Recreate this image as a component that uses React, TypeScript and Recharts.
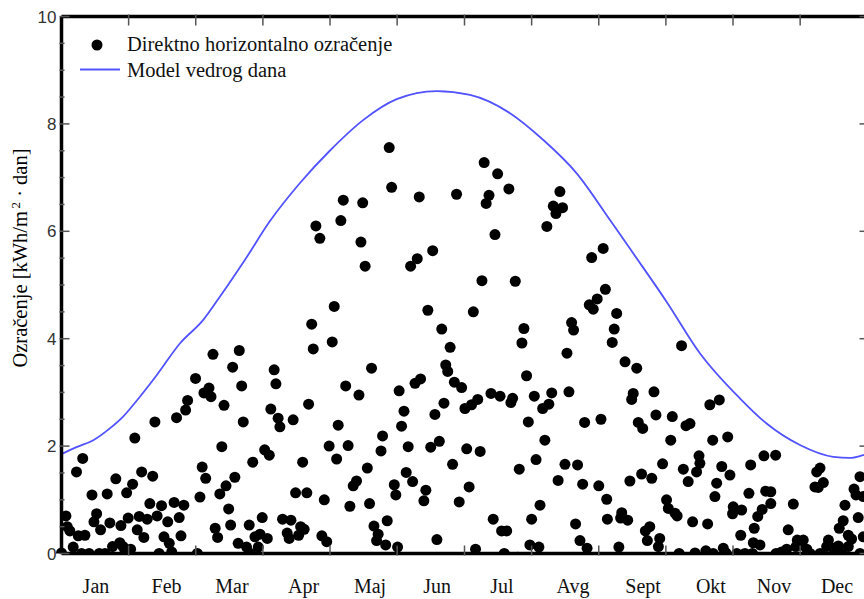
import React from 'react';
import { ComposedChart, Scatter, Line, XAxis, YAxis } from 'recharts';

const SERIF = '"Liberation Serif", "Times New Roman", serif';
const SANS = '"Liberation Sans", Arial, sans-serif';
const BLUE = '#5252ff';

const months = ['Jan', 'Feb', 'Mar', 'Apr', 'Maj', 'Jun', 'Jul', 'Avg', 'Sept', 'Okt', 'Nov', 'Dec'];
const monthLabelDays = [15.6, 47.6, 77.2, 109.6, 139.7, 170.1, 199.4, 231.6, 263.4, 294.1, 322.7, 351.2];
const monthEdgeDays = [30.4, 60.8, 91.2, 121.6, 152, 182.5, 212.9, 243.3, 273.7, 304.1, 334.5];
const yMajorTicks = [0, 2, 4, 6, 8, 10];
const yAllTicks = [0, 0.5, 1, 1.5, 2, 2.5, 3, 3.5, 4, 4.5, 5, 5.5, 6, 6.5, 7, 7.5, 8, 8.5, 9, 9.5, 10];

// model vedrog dana (clear sky)
const clearSkyDays = [0, 6.8, 14.4, 21.9, 27.9, 35.5, 43.1, 53.6, 64.2, 71.7, 83.1, 94.4, 108, 121.5, 136.6, 151.8,
  169.9, 185, 203.1, 218.2, 233.3, 248.4, 258.9, 274, 289.1, 307.2, 319.3, 334.4, 349.5, 357.1, 363.1, 365];
const clearSkyValues = [1.85, 1.98, 2.11, 2.33, 2.55, 2.92, 3.32, 3.91, 4.35, 4.78, 5.47, 6.19, 6.9, 7.5, 8.07, 8.46,
  8.61, 8.54, 8.2, 7.7, 7.08, 6.21, 5.59, 4.69, 3.73, 2.89, 2.42, 2.02, 1.8, 1.78, 1.83, 1.85];

// izmjereno direktno horizontalno ozracenje
const measuredDays = [
  0, 2, 2.6, 3.8, 5.3, 6.8, 7.6, 9.1, 9.6, 10.6,
  12.5, 13.8, 14.7, 15.9, 17.1, 17.7, 19.7, 20.7, 21.9, 23.1,
  24.6, 26.4, 26.9, 27.9, 28.7, 29.5, 30.2, 31.3, 32.2, 33.2,
  34.3, 35.2, 36.3, 37.3, 38.8, 40, 41.3, 42.3, 43.3, 44.2,
  45.3, 46.4, 48.1, 48.8, 49.9, 51, 52.1, 53.3, 54.1, 55.4,
  56.2, 57.1, 60.7, 61.5, 62.7, 63.7, 64.5, 65.3, 66.8, 67.7,
  68.6, 69.6, 70.7, 71.7, 72.6, 73.6, 74.5, 75.7, 76.6, 77.5,
  78.5, 80, 80.5, 81.6, 82.3, 83.8, 85, 85.6, 86.6, 87.6,
  89.1, 89.9, 90.9, 92, 93.2, 94.1, 94.8, 96.3, 97.1, 98.1,
  98.9, 100.1, 102.2, 103.1, 103.9, 104.9, 106, 107.4, 108.3, 109.2,
  109.9, 111.1, 111.9, 113.3, 114, 115.2, 117, 117.9, 119, 120.1,
  121.2, 122.6, 123.5, 124.6, 125.3, 126.5, 127.6, 128.7, 129.8, 130.6,
  132.1, 133.6, 134.7, 135.6, 136.4, 137.5, 138.5, 139.5, 140.4, 141.5,
  142.7, 143.4, 144.7, 145.4, 146.8, 147.5, 148.4, 149.5, 150.7, 151.4,
  152.2, 152.9, 154, 155.1, 156.1, 157, 158.1, 159, 160.1, 161.1,
  162, 162.6, 164.1, 165, 165.9, 167.2, 168.1, 169.1, 170, 171.1,
  172.2, 173.2, 174, 174.9, 176, 177.1, 177.9, 178.9, 180.1, 181.2,
  182.7, 183.5, 184.6, 185.7, 186.5, 187.5, 188.5, 189.6, 190.4, 191.4,
  192.3, 193.6, 194.5, 195.5, 196.3, 197.5, 198.6, 199.3, 200.5, 201.6,
  202.6, 203.5, 204.3, 205.5, 206.6, 207.3, 208.5, 209.4, 210.6, 211.4,
  212.1, 212.9, 214.1, 214.9, 216.2, 216.7, 217.9, 218.9, 219.8, 220.7,
  222, 222.7, 223.9, 224.9, 225.7, 226.9, 228, 228.9, 229.8, 231,
  231.9, 232.8, 233.7, 234.8, 236, 236.9, 238, 239, 240.1, 240.8,
  242.6, 243.3, 244.3, 245.3, 246.3, 246.9, 247.2, 249.4, 250.3, 251.4,
  252.4, 253.2, 253.7, 255.2, 256.4, 257.4, 258.2, 258.9, 260.5, 261.2,
  262.7, 263.2, 264.4, 265.3, 266.4, 267.3, 268.3, 269.2, 270.3, 270.9,
  272.2, 274, 274.8, 275.9, 276.6, 277.8, 278.8, 279.7, 280.8, 281.6,
  282.8, 283.8, 284.6, 285.8, 286.9, 287.6, 288.7, 289.1, 291.8, 292.6,
  293.6, 294.9, 295.1, 295.9, 296.7, 297.9, 299, 299.7, 300.9, 301.7,
  302.7, 303.9, 304.2, 305.8, 307.6, 308, 309.5, 311.3, 312.1, 312.9,
  313.3, 313.7, 315.3, 316.3, 317.3, 318.1, 318.9, 321.2, 321.2, 323.4,
  323.6, 326.1, 328.4, 329.1, 331.4, 332.6, 333.2, 334.9, 335.9, 337.5,
  339, 341.2, 342, 342.7, 343.5, 343.5, 345, 346.5, 347.3, 349.5,
  350.3, 351.8, 352.2, 353.3, 354, 354.8, 356.3, 356.3, 357.8, 358.9,
  359.8, 360.8, 361.6, 361.6, 363.1, 363.1,
];
const measuredValues = [
  0.01, 0.7, 0.5, 0.42, 0.12, 1.52, 0.33, 0, 1.77, 0.34,
  0, 1.09, 0.59, 0.74, 0, 0.44, 0, 1.11, 0.57, 0.13,
  1.39, 0.2, 0.52, 0.13, 0.01, 1.13, 0.66, 0.08, 1.29, 2.15,
  0.44, 0.69, 1.52, 0.3, 0.64, 0.93, 1.44, 2.45, 0.7, 0,
  0.89, 0.31, 0.59, 0.19, 0.03, 0.95, 2.53, 0.67, 0.33, 0.9,
  2.67, 2.85, 3.26, 0, 1.05, 1.61, 2.99, 1.4, 3.08, 2.92,
  3.71, 0.47, 0.3, 1.11, 1.99, 2.76, 1.26, 0.83, 0.53, 3.47,
  1.42, 0.19, 3.78, 3.12, 2.45, 0.12, 0.53, 0, 1.7, 0.31,
  0.12, 0.36, 0.67, 1.93, 0.28, 1.83, 2.69, 3.42, 3.16, 2.52,
  2.36, 0.64, 0.38, 0.28, 0.62, 2.49, 1.13, 0.34, 0.5, 1.7,
  0.45, 1.13, 2.78, 4.27, 3.81, 6.1, 5.87, 0.33, 1, 0.22,
  2, 3.94, 4.6, 1.76, 2.39, 6.2, 6.58, 3.12, 2.01, 0.88,
  1.26, 1.35, 2.95, 5.8, 6.53, 5.35, 1.59, 0.93, 3.45, 0.51,
  0.24, 0.36, 1.91, 2.19, 0.16, 0.61, 7.56, 6.82, 1.28, 1.09,
  0.12, 3.03, 2.37, 2.65, 1.51, 1.99, 5.35, 1.34, 3.17, 5.49,
  6.64, 3.25, 0.98, 1.18, 4.53, 1.98, 5.64, 2.59, 0.26, 2.09,
  4.18, 2.8, 3.51, 3.39, 3.84, 1.66, 3.19, 6.69, 0.96, 3.09,
  2.7, 1.95, 1.24, 2.77, 4.5, 0.08, 2.87, 1.9, 5.08, 7.28,
  6.52, 6.67, 2.98, 0.64, 5.94, 7.07, 2.93, 0.42, 0, 0.42,
  6.79, 2.81, 2.89, 5.07, -0.07, 1.57, 3.92, 4.19, 3.31, 2.45,
  0.16, 0.64, 2.93, 1.75, 0.12, 0.9, 2.7, 2.11, 6.09, 2.78,
  2.99, 6.47, 6.33, 1.36, 6.74, 6.44, 1.66, 3.73, 3.01, 4.3,
  4.16, 0.55, 1.65, 0.24, 1.29, 2.44, 0.1, 4.63, 5.51, 4.55,
  4.74, 1.26, 2.5, 5.68, 4.92, 1.01, 0.64, 3.93, 4.18, 4.47,
  0.12, 0.66, 0.76, 3.57, 0.62, 1.35, 2.87, 2.98, 3.45, 2.44,
  1.48, 2.33, 0.42, 0.24, 0.5, 1.4, 3.01, 2.58, 0.13, 0.28,
  1.67, 1, 0.84, 2.11, 2.55, 0.75, 0.7, 0, 3.87, 1.57,
  2.38, 1.34, 2.42, 0.59, 0.01, 1.52, 1.82, 1.68, 0.05, 0.55,
  2.77, 2.11, 0, 1.06, 1.31, 2.86, 1.62, 0.1, 0.01, 2.17,
  1.46, 0.74, 0.87, 0, 0.34, 0.81, 0, 1.12, 1.65, 0,
  0.2, 0.47, 0.69, 0.16, 0.82, 1.82, 1.16, 1.15, 0.93, 1.83,
  0, 0.03, 0.08, 0.44, 0.92, 0.13, 0.25, 0.16, 0.25, 0.08,
  0, 1.24, 1.52, 1.23, 1.59, 0, 1.32, 0.13, 0.25, 0.1,
  0.1, 0.14, 0.47, 0, 0.61, 0.9, 0.34, 0.13, 0.27, 1.2,
  1.09, 0.67, 1.43, 0, 1.06, 0.31,
];

const clearSky = clearSkyDays.map((day, i) => ({ day, v: clearSkyValues[i] }));
const measured = measuredDays.map((day, i) => ({ day, v: measuredValues[i] }));

const TICK_COLOR = '#555';
const AXIS_LINE = { stroke: '#000', strokeWidth: 3.5 };

const BottomTick = (props: any) => {
  const x = Number(props.x);
  const y = Number(props.y);
  const i = monthLabelDays.indexOf(props.payload.value);
  if (i >= 0) {
    return (
      <text x={x} y={y + 37.5} textAnchor="middle" fontFamily={SERIF} fontSize={20} fill="#111">
        {months[i]}
      </text>
    );
  }
  return <line x1={x} y1={y} x2={x} y2={y - 10} stroke={TICK_COLOR} strokeWidth={1.5} />;
};

const TopTick = (props: any) => {
  const x = Number(props.x);
  const y = Number(props.y);
  return <line x1={x} y1={y} x2={x} y2={y + 11} stroke={TICK_COLOR} strokeWidth={1.5} />;
};

const LeftTick = (props: any) => {
  const x = Number(props.x);
  const y = Number(props.y);
  const major = yMajorTicks.includes(props.payload.value);
  return (
    <g>
      <line x1={x} y1={y} x2={x + (major ? 10 : 5)} y2={y} stroke={TICK_COLOR} strokeWidth={1.5} />
      {major && (
        <text x={x - 3} y={y} dy="0.36em" textAnchor="end" fontFamily={SANS} fontSize={17} fill="#333">
          {props.payload.value}
        </text>
      )}
    </g>
  );
};

const RightTick = (props: any) => {
  const x = Number(props.x);
  const y = Number(props.y);
  const major = yMajorTicks.includes(props.payload.value);
  return <line x1={x} y1={y} x2={x - (major ? 10 : 5)} y2={y} stroke={TICK_COLOR} strokeWidth={1.5} />;
};

const Dot = (props: any) => <circle cx={props.cx} cy={props.cy} r={5.5} fill="#000" />;

export default function App() {
  return (
    <div style={{ position: 'absolute', left: 0, top: 0, width: 864, height: 599, overflow: 'hidden', background: '#fff' }}>
      <ComposedChart width={870} height={599} margin={{ top: 15.5, right: 1.5, bottom: 44.5, left: 60.5 }}>
        <XAxis
          dataKey="day"
          type="number"
          domain={[0, 365]}
          ticks={[...monthEdgeDays, ...monthLabelDays].sort((a, b) => a - b)}
          interval={0}
          tick={BottomTick}
          tickLine={false}
          tickSize={0}
          height={1}
          axisLine={AXIS_LINE}
        />
        <XAxis
          xAxisId="top"
          dataKey="day"
          orientation="top"
          type="number"
          domain={[0, 365]}
          ticks={monthEdgeDays}
          interval={0}
          tick={TopTick}
          tickLine={false}
          tickSize={0}
          height={1}
          axisLine={AXIS_LINE}
        />
        <YAxis
          dataKey="v"
          type="number"
          domain={[0, 10]}
          allowDataOverflow
          ticks={yAllTicks}
          interval={0}
          tick={LeftTick}
          tickLine={false}
          tickSize={0}
          width={1}
          axisLine={AXIS_LINE}
        />
        <YAxis
          yAxisId="right"
          dataKey="v"
          orientation="right"
          type="number"
          domain={[0, 10]}
          ticks={yAllTicks}
          interval={0}
          tick={RightTick}
          tickLine={false}
          tickSize={0}
          width={1}
          axisLine={AXIS_LINE}
        />
        {/* invisible copy of the model curve, only so the top and right frame axes get a scale */}
        <Line
          xAxisId="top"
          yAxisId="right"
          data={clearSky}
          dataKey="v"
          stroke="none"
          dot={false}
          activeDot={false}
          isAnimationActive={false}
        />
        <Line
          data={clearSky}
          dataKey="v"
          type="monotone"
          stroke={BLUE}
          strokeWidth={1.8}
          dot={false}
          activeDot={false}
          isAnimationActive={false}
        />
        <Scatter data={measured} dataKey="v" fill="#000" shape={Dot} isAnimationActive={false} />
      </ComposedChart>
      <svg width={864} height={599} style={{ position: 'absolute', left: 0, top: 0, pointerEvents: 'none' }}>
        <circle cx={97} cy={45} r={5.5} fill="#000" />
        <text x={127} y={51} fontFamily={SERIF} fontSize={20.5} fill="#111">Direktno horizontalno ozračenje</text>
        <line x1={80} y1={69.5} x2={120} y2={69.5} stroke={BLUE} strokeWidth={2} />
        <text x={127} y={77} fontFamily={SERIF} fontSize={20.5} fill="#111">Model vedrog dana</text>
        <text
          x={27}
          y={258}
          transform="rotate(-90, 27, 258)"
          textAnchor="middle"
          fontFamily={SERIF}
          fontSize={20.5}
          fill="#000"
        >
          Ozračenje [kWh/m
          <tspan dy={-7} fontSize={13}>{'\u2009'}2</tspan>
          <tspan dy={7}>{' \u00b7 dan]'}</tspan>
        </text>
      </svg>
    </div>
  );
}
